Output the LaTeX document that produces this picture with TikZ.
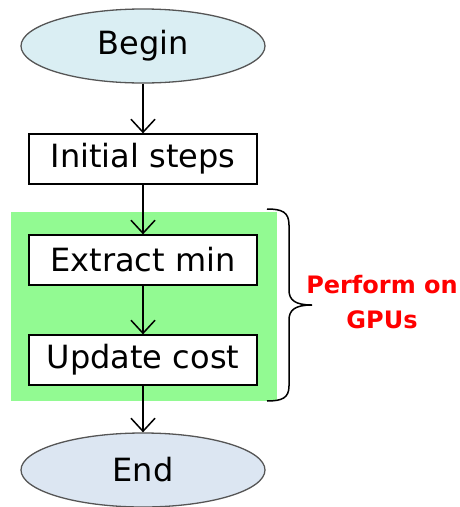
\documentclass[tikz,border=0pt]{standalone}
\usepackage{fontspec}
\setmainfont{DejaVu Sans}
\usetikzlibrary{arrows.meta,shapes.geometric}
\definecolor{beginfill}{HTML}{DAEEF3}
\definecolor{endfill}{HTML}{DCE6F2}
\definecolor{gpugreen}{HTML}{92FA92}
\definecolor{gpured}{HTML}{FF0000}
\definecolor{ellline}{HTML}{555555}
\begin{document}
\begin{tikzpicture}[x=1pt,y=-1pt,
  term/.style={ellipse,draw=ellline,line width=1.3pt,minimum width=244pt,minimum height=74pt,inner sep=0pt,font=\fontsize{32}{38}\selectfont},
  stepbox/.style={rectangle,draw=black,line width=1.3pt,fill=white,minimum width=228pt,minimum height=50pt,inner sep=0pt,font=\fontsize{32}{38}\selectfont},
  flow/.style={line width=1.5pt,-{Straight Barb[length=13pt,width=24pt,line width=1.5pt]}},
  note/.style={text=gpured,font=\bfseries\fontsize{24}{35}\selectfont,align=center}]
\useasboundingbox (0,0) rectangle (459,507);
\fill[gpugreen] (11,212) rectangle (277,401);
\node[term,fill=beginfill] (begin) at (143,46) {Begin};
\node[stepbox] (init) at (143,159) {Initial steps};
\node[stepbox] (extract) at (143,260) {Extract min};
\node[stepbox] (update) at (143,360) {Update cost};
\node[term,fill=endfill] (end) at (143,470) {End};
\draw[flow] (begin) -- (init);
\draw[flow] (init) -- (extract);
\draw[flow] (extract) -- (update);
\draw[flow] (update) -- (end);
\draw[line width=1.5pt] (267,209) .. controls (282,209) and (289,212) .. (289,225) -- (289,290) .. controls (289,300) and (295,305) .. (312,305) .. controls (295,305) and (289,310) .. (289,320) -- (289,386) .. controls (289,398) and (282,401) .. (267,401);
\node[note] (gpus) at (382,302) {Perform on\\GPUs};
\end{tikzpicture}
\end{document}
